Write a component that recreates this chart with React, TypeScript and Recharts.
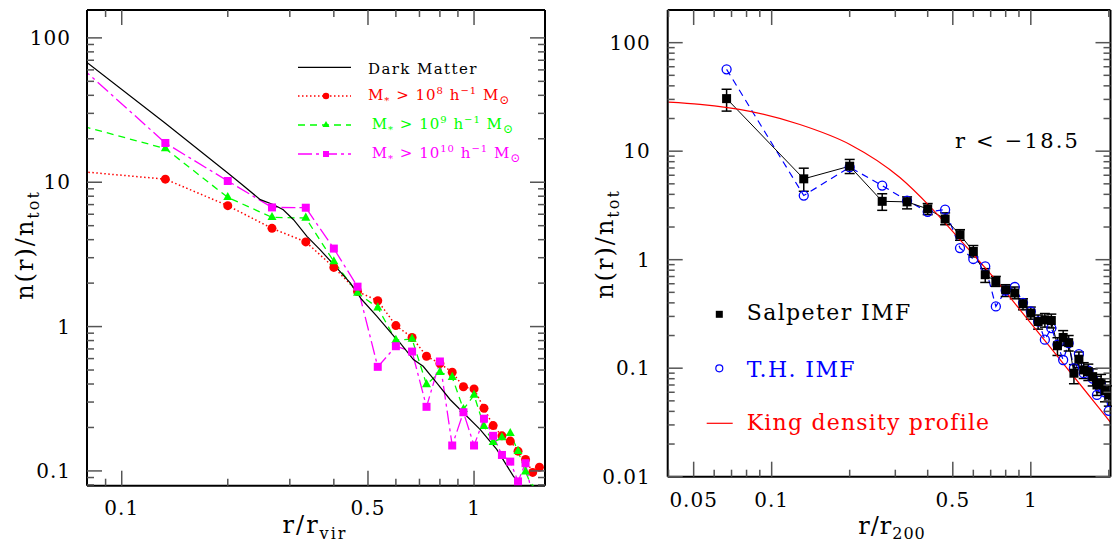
import React from "react";
import { ComposedChart, Line, XAxis, YAxis, ErrorBar } from "recharts";

// ---- left panel: n(r)/n_tot against r/r_vir ----
const leftBins = [
  0.067, 0.133, 0.2, 0.267, 0.333, 0.4, 0.467, 0.533, 0.6, 0.667, 0.733, 0.8,
  0.867, 0.933, 1.0, 1.067, 1.133, 1.2, 1.267, 1.333, 1.4, 1.467, 1.533,
];
const mass8 = [
  12.2, 10.5, 6.88, 4.79, 3.86, 2.57, 1.75, 1.51, 1.016, 0.84, 0.623, 0.555,
  0.483, 0.383, 0.37, 0.272, 0.206, 0.175, 0.161, 0.137, 0.12, 0.0977, 0.106,
];
const mass9 = [
  26.9, 17.1, 7.85, 5.71, 5.65, 2.82, 1.71, 1.35, 0.804, 0.82, 0.397, 0.483,
  0.446, 0.267, 0.335, 0.204, 0.158, 0.17, 0.182, 0.137, 0.0988, 0.075,
];
const mass10 = [
  84, 18.7, 10.2, 6.69, 6.66, 3.47, 1.89, 0.526, 0.731, 0.671, 0.278, 0.573,
  0.15, 0.255, 0.15, 0.23, 0.175, 0.129, 0.116, 0.0846, 0.113, 0.065,
];
const dmR = [
  0.076, 0.1327, 0.2, 0.2168, 0.2474, 0.27, 0.2874, 0.3074, 0.3355, 0.3654,
  0.4077, 0.4451, 0.48, 0.5295, 0.6035, 0.6167, 0.6728, 0.717, 0.7836, 0.8549,
  0.9325, 1.04, 1.16, 1.293, 1.351, 1.4,
];
const dmN = [
  74, 25.7, 11.6, 9.87, 7.57, 6.98, 6.45, 5.5, 4.22, 3.41, 2.55, 2.01, 1.54,
  1.18, 0.813, 0.771, 0.591, 0.531, 0.408, 0.3125, 0.253, 0.194, 0.1408, 0.092,
  0.0807, 0.072,
];

// ---- right panel: n(r)/n_tot against r/r_200 ----
const rightBins = [
  0.067, 0.133, 0.2, 0.267, 0.333, 0.4, 0.467, 0.533, 0.6, 0.667, 0.733, 0.8,
  0.867, 0.933, 1.0, 1.067, 1.133, 1.2, 1.267, 1.333, 1.4, 1.467, 1.533, 1.6,
  1.667, 1.733, 1.8, 1.867, 1.933, 2.0,
];
const salpeter = [
  30.5, 5.56, 7.27, 3.45, 3.41, 2.94, 2.37, 1.7, 1.19, 0.727, 0.63, 0.528,
  0.493, 0.392, 0.322, 0.269, 0.279, 0.275, 0.161, 0.192, 0.172, 0.0899, 0.121,
  0.0964, 0.093, 0.0836, 0.0701, 0.0736, 0.062, 0.0567,
];
const salpeterLo = [
  7.1, 1.29, 1.05, 0.6, 0.47, 0.34, 0.27, 0.19, 0.13, 0.11, 0.063, 0.07, 0.057,
  0.047, 0.039, 0.04, 0.04, 0.04, 0.03, 0.03, 0.028, 0.018, 0.02, 0.016, 0.016,
  0.015, 0.014, 0.014, 0.013, 0.012,
];
const salpeterHi = [
  6.7, 1.41, 1.12, 0.6, 0.38, 0.35, 0.33, 0.19, 0.16, 0.1, 0.071, 0.06, 0.067,
  0.044, 0.044, 0.04, 0.04, 0.04, 0.03, 0.03, 0.028, 0.018, 0.02, 0.016, 0.016,
  0.015, 0.014, 0.014, 0.013, 0.012,
];
const topHeavy = [
  56.8, 3.9, 7.12, 4.82, 3.5, 2.76, 2.89, 1.28, 1.015, 0.867, 0.371, 0.52, 0.56,
  0.4, 0.333, 0.27, 0.183, 0.234, 0.165, 0.119, 0.17, 0.1, 0.135, 0.09, 0.095,
  0.08, 0.0567, 0.07, 0.06, 0.0405,
];
const kingR = [
  0.04, 0.0529, 0.0825, 0.1285, 0.2004, 0.3125, 0.4077, 0.5324, 0.759, 0.907,
  1.083, 1.293, 1.545, 1.845, 2.05,
];
const kingN = [
  28.3, 27.0, 23.3, 17.6, 11.53, 5.71, 3.1, 1.53, 0.588, 0.347, 0.205, 0.121,
  0.0715, 0.0422, 0.0308,
];

// tick positions
const leftXTicks = [0.09, 0.1, 0.2, 0.3, 0.4, 0.5, 0.6, 0.7, 0.8, 0.9, 1];
const leftXMajor = [0.1, 0.5, 1];
const leftYTicks = [
  0.08, 0.09, 0.1, 0.2, 0.3, 0.4, 0.5, 0.6, 0.7, 0.8, 0.9, 1, 2, 3, 4, 5, 6, 7,
  8, 9, 10, 20, 30, 40, 50, 60, 70, 80, 90, 100,
];
const leftYMajor = [0.1, 1, 10, 100];
const rightXTicks = [
  0.04, 0.05, 0.06, 0.07, 0.08, 0.09, 0.1, 0.2, 0.3, 0.4, 0.5, 0.6, 0.7, 0.8,
  0.9, 1, 2,
];
const rightXMajor = [0.05, 0.1, 0.5, 1];
const rightYTicks = [
  0.01, 0.02, 0.03, 0.04, 0.05, 0.06, 0.07, 0.08, 0.09, 0.1, 0.2, 0.3, 0.4, 0.5,
  0.6, 0.7, 0.8, 0.9, 1, 2, 3, 4, 5, 6, 7, 8, 9, 10, 20, 30, 40, 50, 60, 70, 80,
  90, 100,
];
const rightYMajor = [0.01, 0.1, 1, 10, 100];

const SERIF = "DejaVu Serif";
const RED = "#ff0000";
const GREEN = "#00ff00";
const MAGENTA = "#ff00ff";
const BLUE = "#0000ff";

const toPoints = (xs: number[], ys: number[]) =>
  ys.map((y, i) => ({ x: xs[i], y }));

const frame = { stroke: "#000", strokeWidth: 2 };

type Side = "bottom" | "top" | "left" | "right";

// inward tick marks; majors are longer and optionally carry a label
const axisTick =
  (side: Side, majors: number[], labels: boolean, gap: number) =>
  (props: any) => {
    const { x, y, payload, index } = props;
    const v = payload.value as number;
    const major = majors.some((m) => Math.abs(m - v) < 1e-9);
    const len = major ? 15 : 7;
    let x2 = x;
    let y2 = y;
    if (side === "bottom") y2 = y - len;
    if (side === "top") y2 = y + len;
    if (side === "left") x2 = x + len;
    if (side === "right") x2 = x - len;
    let label = null;
    if (labels && major && side === "bottom")
      label = (
        <text x={x} y={y + gap} textAnchor="middle" fontFamily={SERIF} fontSize={20} letterSpacing={1} fill="#000">
          {v}
        </text>
      );
    if (labels && major && side === "left")
      label = (
        <text x={x - gap} y={y + 7} textAnchor="end" fontFamily={SERIF} fontSize={20} letterSpacing={1} fill="#000">
          {v}
        </text>
      );
    return (
      <g key={`t-${side}-${index}`}>
        <line x1={x} y1={y} x2={x2} y2={y2} stroke="#555" strokeWidth={1.5} />
        {label}
      </g>
    );
  };

const circleDot = (color: string, r: number) => (p: any) =>
  p.cx == null ? (
    <g key={p.index} />
  ) : (
    <circle key={p.index} cx={p.cx} cy={p.cy} r={r} fill={color} />
  );

const triangleDot = (color: string, s: number) => (p: any) =>
  p.cx == null ? (
    <g key={p.index} />
  ) : (
    <polygon
      key={p.index}
      points={`${p.cx},${p.cy - s * 0.6} ${p.cx - s / 2},${p.cy + s * 0.3} ${p.cx + s / 2},${p.cy + s * 0.3}`}
      fill={color}
    />
  );

const squareDot = (color: string, s: number) => (p: any) =>
  p.cx == null ? (
    <g key={p.index} />
  ) : (
    <rect key={p.index} x={p.cx - s / 2} y={p.cy - s / 2} width={s} height={s} fill={color} />
  );

const ringDot = (color: string, r: number) => (p: any) =>
  p.cx == null ? (
    <g key={p.index} />
  ) : (
    <circle key={p.index} cx={p.cx} cy={p.cy} r={r} fill="none" stroke={color} strokeWidth={1.3} />
  );

// axes are 1px thick so the frame is drawn; margins absorb that pixel
const LeftPanel = () => {
  const xDomain = [0.0797, 1.59];
  const yDomain = [0.079, 156];
  return (
    <ComposedChart width={560} height={544} margin={{ top: 9, right: 14, bottom: 57.3, left: 86 }}>
      <XAxis xAxisId="b" type="number" dataKey="x" scale="log" domain={xDomain} allowDataOverflow ticks={leftXTicks} interval={0} tickSize={0} tickMargin={0} tickLine={false} axisLine={frame} height={1} tick={axisTick("bottom", leftXMajor, true, 29.5)} />
      <XAxis xAxisId="t" orientation="top" type="number" dataKey="x" scale="log" domain={xDomain} allowDataOverflow ticks={leftXTicks} interval={0} tickSize={0} tickMargin={0} tickLine={false} axisLine={frame} height={1} tick={axisTick("top", leftXMajor, false, 0)} />
      <YAxis yAxisId="l" type="number" dataKey="y" scale="log" domain={yDomain} allowDataOverflow ticks={leftYTicks} interval={0} tickSize={0} tickMargin={0} tickLine={false} axisLine={frame} width={1} tick={axisTick("left", leftYMajor, true, 16)} />
      <YAxis yAxisId="r" orientation="right" type="number" dataKey="y" scale="log" domain={yDomain} allowDataOverflow ticks={leftYTicks} interval={0} tickSize={0} tickMargin={0} tickLine={false} axisLine={frame} width={1} tick={axisTick("right", leftYMajor, false, 0)} />
      <Line xAxisId="b" yAxisId="l" data={toPoints(leftBins, mass8)} dataKey="y" stroke={RED} strokeWidth={1.5} strokeDasharray="1.5 2.5" dot={circleDot(RED, 4.5)} activeDot={false} isAnimationActive={false} />
      <Line xAxisId="b" yAxisId="l" data={toPoints(leftBins, mass9)} dataKey="y" stroke={GREEN} strokeWidth={1.3} strokeDasharray="7 5" dot={triangleDot(GREEN, 9)} activeDot={false} isAnimationActive={false} />
      <Line xAxisId="b" yAxisId="l" data={toPoints(leftBins, mass10)} dataKey="y" stroke={MAGENTA} strokeWidth={1.3} strokeDasharray="14 4 3 4" dot={squareDot(MAGENTA, 8)} activeDot={false} isAnimationActive={false} />
      <Line xAxisId="b" yAxisId="l" data={toPoints(dmR, dmN)} dataKey="y" stroke="#000" strokeWidth={1.2} dot={false} activeDot={false} isAnimationActive={false} />
    </ComposedChart>
  );
};

const RightPanel = () => {
  const xDomain = [0.0397, 2.03];
  const yDomain = [0.01, 200];
  const salpeterData = salpeter.map((y, i) => ({
    x: rightBins[i],
    y,
    err: [salpeterLo[i], salpeterHi[i]],
  }));
  return (
    <ComposedChart width={532} height={544} margin={{ top: 9, right: 0.5, bottom: 66.3, left: 86.7 }}>
      <XAxis xAxisId="b" type="number" dataKey="x" scale="log" domain={xDomain} allowDataOverflow ticks={rightXTicks} interval={0} tickSize={0} tickMargin={0} tickLine={false} axisLine={frame} height={1} tick={axisTick("bottom", rightXMajor, true, 30)} />
      <XAxis xAxisId="t" orientation="top" type="number" dataKey="x" scale="log" domain={xDomain} allowDataOverflow ticks={rightXTicks} interval={0} tickSize={0} tickMargin={0} tickLine={false} axisLine={frame} height={1} tick={axisTick("top", rightXMajor, false, 0)} />
      <YAxis yAxisId="l" type="number" dataKey="y" scale="log" domain={yDomain} allowDataOverflow ticks={rightYTicks} interval={0} tickSize={0} tickMargin={0} tickLine={false} axisLine={frame} width={1} tick={axisTick("left", rightYMajor, true, 17)} />
      <YAxis yAxisId="r" orientation="right" type="number" dataKey="y" scale="log" domain={yDomain} allowDataOverflow ticks={rightYTicks} interval={0} tickSize={0} tickMargin={0} tickLine={false} axisLine={frame} width={1} tick={axisTick("right", rightYMajor, false, 0)} />
      <Line xAxisId="b" yAxisId="l" data={toPoints(rightBins, topHeavy)} dataKey="y" stroke={BLUE} strokeWidth={1.2} strokeDasharray="7 5" dot={ringDot(BLUE, 4.5)} activeDot={false} isAnimationActive={false} />
      <Line xAxisId="b" yAxisId="l" data={salpeterData} dataKey="y" stroke="#000" strokeWidth={1} dot={squareDot("#000", 9)} activeDot={false} isAnimationActive={false}>
        <ErrorBar dataKey="err" direction="y" width={5} stroke="#000" strokeWidth={1.5} />
      </Line>
      <Line xAxisId="b" yAxisId="l" data={toPoints(kingR, kingN)} dataKey="y" type="monotone" stroke={RED} strokeWidth={1.2} dot={false} activeDot={false} isAnimationActive={false} />
    </ComposedChart>
  );
};

const MassLabel = ({ x, y, exp, color }: { x: number; y: number; exp: string; color: string }) => (
  <text x={x} y={y} fill={color} fontFamily={SERIF} fontSize={15} letterSpacing={1} style={{ whiteSpace: "pre" }}>
    M<tspan dy={4} fontSize={10}>*</tspan>
    <tspan dy={-4}>{" > 10"}</tspan>
    <tspan dy={-6} fontSize={10}>{exp}</tspan>
    <tspan dy={6}>{" h"}</tspan>
    <tspan dy={-6} fontSize={10}>−1</tspan>
    <tspan dy={6}>{" M"}</tspan>
    <tspan dy={4} fontSize={12}>⊙</tspan>
  </text>
);

const Annotations = () => (
  <svg width={1112} height={544} style={{ position: "absolute", left: 0, top: 0 }} fontFamily={SERIF}>
    {/* left legend */}
    <line x1={298} x2={351} y1={67.3} y2={67.3} stroke="#000" strokeWidth={1.2} />
    <text x={368} y={74} fontSize={15} letterSpacing={1.4} fill="#000">Dark Matter</text>
    <line x1={298} x2={351} y1={96} y2={96} stroke={RED} strokeWidth={1.5} strokeDasharray="1.5 2.5" />
    <circle cx={326} cy={96} r={3.3} fill={RED} />
    <MassLabel x={368} y={100} exp="8" color={RED} />
    <line x1={298} x2={351} y1={125} y2={125} stroke={GREEN} strokeWidth={1.3} strokeDasharray="7 5" />
    <polygon points="326,121 322.5,127 329.5,127" fill={GREEN} />
    <MassLabel x={371.7} y={129.3} exp="9" color={GREEN} />
    <line x1={298} x2={351} y1={154} y2={154} stroke={MAGENTA} strokeWidth={1.3} strokeDasharray="14 4 3 4" />
    <rect x={323} y={151} width={6} height={6} fill={MAGENTA} />
    <MassLabel x={371.7} y={158.3} exp="10" color={MAGENTA} />

    {/* axis titles */}
    <text transform="translate(33,245) rotate(-90)" textAnchor="middle" fontSize={24} letterSpacing={2}>
      n(r)/n<tspan dy={6} fontSize={16}>tot</tspan>
    </text>
    <text x={315} y={533} textAnchor="middle" fontSize={24} letterSpacing={2}>
      r/r<tspan dy={6} fontSize={16}>vir</tspan>
    </text>
    <text transform="translate(613,244) rotate(-90)" textAnchor="middle" fontSize={24} letterSpacing={2}>
      n(r)/n<tspan dy={6} fontSize={16}>tot</tspan>
    </text>
    <text x={892} y={534} textAnchor="middle" fontSize={24} letterSpacing={1}>
      r/r<tspan dy={5} fontSize={16}>200</tspan>
    </text>

    {/* right panel notes */}
    <text x={955} y={148} fontSize={21} letterSpacing={2.2} style={{ whiteSpace: "pre" }}>r &lt; −18.5</text>
    <rect x={715.8} y={310.8} width={7} height={7} fill="#000" />
    <text x={746.7} y={320} fontSize={22} letterSpacing={1.4}>Salpeter IMF</text>
    <circle cx={719.3} cy={368.3} r={3.5} fill="none" stroke={BLUE} strokeWidth={1.2} />
    <text x={746.7} y={376.7} fontSize={22} letterSpacing={1.4} fill={BLUE}>T.H. IMF</text>
    <line x1={706.7} x2={732.7} y1={423.3} y2={423.3} stroke={RED} strokeWidth={1.2} />
    <text x={746.7} y={430} fontSize={22} letterSpacing={1.2} fill={RED}>King density profile</text>
  </svg>
);

export default function App() {
  return (
    <div style={{ position: "absolute", left: 0, top: 0, width: 1112, height: 544, background: "#fff" }}>
      <div style={{ position: "absolute", left: 0, top: 0 }}>
        <LeftPanel />
      </div>
      <div style={{ position: "absolute", left: 580, top: 0 }}>
        <RightPanel />
      </div>
      <Annotations />
    </div>
  );
}
